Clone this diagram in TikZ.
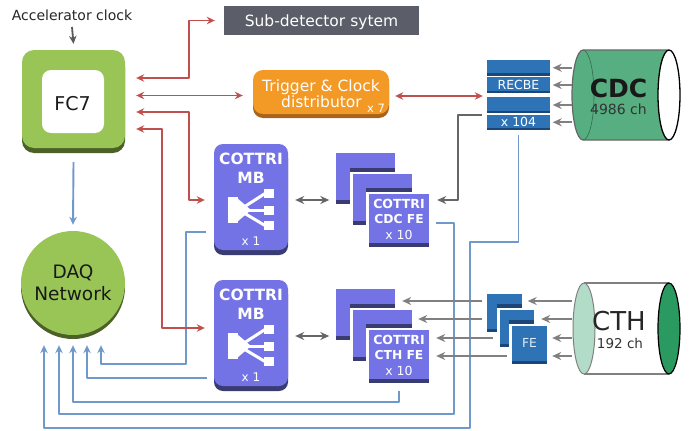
\documentclass[tikz,border=0pt]{standalone}
\usepackage{fontspec}
\setmainfont{DejaVu Sans}
\usetikzlibrary{arrows.meta,calc}
\definecolor{redc}{HTML}{C0504D}
\definecolor{bluel}{HTML}{7099CB}
\definecolor{grayl}{HTML}{808080}
\definecolor{grayd}{HTML}{666666}
\definecolor{fcgreen}{HTML}{98C556}
\definecolor{fcdark}{HTML}{4B6128}
\definecolor{orng}{HTML}{F39A26}
\definecolor{orngd}{HTML}{A8641C}
\definecolor{subgray}{HTML}{5B5E68}
\definecolor{purp}{HTML}{7373E6}
\definecolor{purpd}{HTML}{393B73}
\definecolor{recb}{HTML}{2E73B6}
\definecolor{recbd}{HTML}{1C4677}
\definecolor{cdcg}{HTML}{57AE80}
\definecolor{cthl}{HTML}{B3DCC8}
\definecolor{cthd}{HTML}{2B9A61}
\newcommand\fsz[1]{\fontsize{#1}{#1}\selectfont}
\begin{document}
\begin{tikzpicture}[x=1pt,y=-1pt,line join=round,
  lbl/.style={anchor=base, inner sep=0pt, outer sep=0pt},
  redarr/.style={draw=redc, line width=1.9pt, {Stealth[length=8pt,width=7.5pt]}-{Stealth[length=8pt,width=7.5pt]}},
  blarr/.style={draw=bluel, line width=1.9pt, -{Stealth[length=8pt,width=7.5pt]}},
  grarr/.style={draw=grayl, line width=2.3pt, -{Stealth[length=9pt,width=8pt]}},
  dgarr/.style={draw=grayd, line width=2.3pt, {Stealth[length=9pt,width=8pt]}-{Stealth[length=9pt,width=8pt]}},
  pcard/.style={fill=purp, inner sep=0pt, path picture={\fill[purpd] ([yshift=4pt]path picture bounding box.south west) rectangle (path picture bounding box.south east);}},
  bcard/.style={fill=recb, inner sep=0pt, path picture={\fill[recbd] ([yshift=3pt]path picture bounding box.south west) rectangle (path picture bounding box.south east);}},
  rbar/.style={fill=recb, inner sep=0pt, minimum width=63pt, path picture={\fill[recbd] ([yshift=2.5pt]path picture bounding box.south west) rectangle (path picture bounding box.south east);}},
  mbbox/.style={fill=purp, rounded corners=9pt, minimum width=74pt, minimum height=106pt, inner sep=0pt},
  wtxt/.style={lbl, text=white},
]
\useasboundingbox (0,0) rectangle (694,431);

% ---------- FC7 ----------
\fill[fcdark, rounded corners=12pt] (22,55) rectangle (125,153);
\node[fill=fcgreen, rounded corners=12pt, minimum width=103pt, minimum height=98pt, inner sep=0pt] (fc7) at (73.5,99) {};
\node[fill=white, rounded corners=9pt, minimum width=62pt, minimum height=63pt, inner sep=0pt] (fc7in) at (73,101.5) {};
\node[lbl, font=\fsz{19}, text=black!90] (fc7t) at (72.5,110) {FC7};

\node[lbl, font=\fsz{14}, text=black!85] (acc) at (72,20) {Accelerator clock};
\draw[draw=black!65, line width=1.8pt, -{Stealth[length=8pt,width=7.5pt]}] ($(acc.base)+(0,7)$) -- ($(fc7.north)+(0,-6)$);

% ---------- DAQ ----------
\fill[fcdark] (73,287) circle[radius=52pt];
\node[circle, fill=fcgreen, minimum size=104pt, inner sep=0pt] (daq) at (73,283) {};
\node[lbl, font=\fsz{18.5}, text=black!90] (daqt1) at (73,278) {DAQ};
\node[lbl, font=\fsz{18.5}, text=black!90] (daqt2) at (73,300) {Network};
\draw[blarr] ($(fc7.south)+(0,14)$) -- ($(daq.north)+(0,-6)$);

% ---------- Sub-detector ----------
\node[fill=subgray, minimum width=195pt, minimum height=29pt, inner sep=0pt] (sub) at (321.5,20.5) {};
\node[wtxt, font=\fsz{15.5}] (subt) at (321.5,26.5) {Sub-detector sytem};

% ---------- Trigger ----------
\fill[orngd, rounded corners=10pt] (253,74) rectangle (389,118);
\node[fill=orng, rounded corners=10pt, minimum width=136pt, minimum height=44pt, inner sep=0pt] (trig) at (321,92) {};
\node[wtxt, font=\fsz{15.5}] (trigt1) at (321,91) {Trigger \& Clock};
\node[wtxt, font=\fsz{15.5}] (trigt2) at (321.5,107.5) {distributor};
\node[wtxt, font=\fsz{11.5}] (trigt3) at (376,112.5) {x 7};

% ---------- MB boxes ----------
\fill[purpd, rounded corners=9pt] (214,149) rectangle (288,255);
\node[mbbox] (mb1) at (251,197) {};
\fill[purpd, rounded corners=9pt] (214,285) rectangle (288,391);
\node[mbbox] (mb2) at (251,333) {};
\foreach \dy/\nm in {0/a,136/b}{
  \node[wtxt, font=\bfseries\fsz{15.5}] (mbc\nm) at (251,{164+\dy}) {COTTRI};
  \node[wtxt, font=\bfseries\fsz{15.5}] (mbm\nm) at (251,{183+\dy}) {MB};
  \node[wtxt, font=\fsz{12}] (mbx\nm) at (251,{245+\dy}) {x 1};
  \fill[white] (228,{197+\dy}) rectangle (238,{223+\dy});
  \fill[white] (237,{198+\dy}) -- (251,{210+\dy}) -- (237,{222+\dy}) -- cycle;
  \fill[white] (264,{189+\dy}) rectangle (274,{198+\dy});
  \fill[white] (264,{205.5+\dy}) rectangle (274,{214.5+\dy});
  \fill[white] (264,{221+\dy}) rectangle (274,{230+\dy});
  \draw[white, line width=3pt] (244,{207+\dy}) -- (265,{193.5+\dy});
  \draw[white, line width=3pt] (244,{210+\dy}) -- (265,{210+\dy});
  \draw[white, line width=3pt] (244,{213+\dy}) -- (265,{225.5+\dy});
}

% ---------- CDC FE stack ----------
\node[pcard, minimum width=59pt, minimum height=51pt] (cdcA) at (365,178) {};
\fill[purpd] (350,168) rectangle (394.5,172);
\fill[white] (350,172) rectangle (412,225);
\node[pcard, minimum width=59pt, minimum height=51pt] (cdcB) at (382.5,199.5) {};
\fill[purpd] (366,188) rectangle (412,192);
\fill[white] (366,192) rectangle (429,247);
\node[pcard, minimum width=60pt, minimum height=53pt] (cdcC) at (399,220.5) {};
\node[wtxt, font=\bfseries\fsz{12.5}] (cdct1) at (399,208) {COTTRI};
\node[wtxt, font=\bfseries\fsz{12.3}] (cdct2) at (399,223) {CDC FE};
\node[wtxt, font=\fsz{12.5}] (cdct3) at (399,239) {x 10};

% ---------- CTH FE stack ----------
\node[pcard, minimum width=59pt, minimum height=51pt] (cthA) at (365,314) {};
\fill[purpd] (350,304) rectangle (394.5,308);
\fill[white] (350,308) rectangle (412,361);
\node[pcard, minimum width=59pt, minimum height=51pt] (cthB) at (382.5,335.5) {};
\fill[purpd] (366,324) rectangle (412,328);
\fill[white] (366,328) rectangle (429,383);
\node[pcard, minimum width=60pt, minimum height=53pt] (cthC) at (399,356.5) {};
\node[wtxt, font=\bfseries\fsz{12.5}] (ctht1) at (399,344) {COTTRI};
\node[wtxt, font=\bfseries\fsz{12.3}] (ctht2) at (399,359) {CTH FE};
\node[wtxt, font=\fsz{12.5}] (ctht3) at (399,375) {x 10};

% ---------- RECBE ----------
\node[rbar, minimum height=15.5pt] (r1) at (518.5,67.75) {};
\node[rbar, minimum height=16pt] (r2) at (518.5,85) {};
\node[rbar, minimum height=16pt] (r3) at (518.5,105) {};
\node[rbar, minimum height=15.5pt] (r4) at (518.5,122.25) {};
\node[wtxt, font=\fsz{12.5}] (rt1) at (518.5,89.5) {RECBE};
\node[wtxt, font=\fsz{12.5}] (rt2) at (518.5,126.5) {x 104};

% ---------- small FE (CTH) ----------
\node[bcard, minimum width=35pt, minimum height=38pt] (fe1) at (504.5,313) {};
\fill[recbd] (497,304) rectangle (522,308);
\fill[white] (497,308) rectangle (534,347);
\node[bcard, minimum width=34pt, minimum height=37pt] (fe2) at (517,328.5) {};
\fill[recbd] (509,320) rectangle (534,323.5);
\fill[white] (509,323.5) rectangle (547,364);
\node[bcard, minimum width=35pt, minimum height=38pt] (fe3) at (529.5,345) {};
\node[lbl, font=\fsz{12.4}, text=white!85!recb] (fet) at (529.5,347) {FE};

% ---------- CDC cylinder ----------
\fill[cdcg] (669,50) -- (583,50) arc[start angle=90,end angle=270,x radius=11pt,y radius=45pt] -- (669,140) -- cycle;
\draw[cdcg!60!black, line width=0.6pt] (583,50) arc[start angle=90,end angle=-90,x radius=11pt,y radius=45pt];
\draw[black!60, line width=1.2pt] (669,50) -- (583,50) arc[start angle=90,end angle=270,x radius=11pt,y radius=45pt] -- (669,140);
\draw[black, line width=1.3pt, fill=white] (669,95) ellipse[x radius=11pt,y radius=45pt];
\coordinate (cdcL) at (571.5,95);
\node[lbl, font=\bfseries\fsz{25}, text=black!90] (cdct) at (618.5,97) {CDC};
\node[lbl, font=\fsz{14}, text=black!80] (cdcn) at (618.5,114) {4986 ch};

% ---------- CTH cylinder ----------
\fill[white] (584,283) rectangle (669,374);
\draw[grayl, line width=1.5pt] (584,283) -- (669,283) (584,374) -- (669,374);
\draw[grayl, line width=1pt, fill=cthl] (584,328.5) ellipse[x radius=11pt,y radius=45.5pt];
\draw[black, line width=1.2pt, fill=cthd] (669,328.5) ellipse[x radius=11pt,y radius=45.5pt];
\coordinate (cthL) at (572,328.5);
\node[lbl, font=\fsz{26}, text=black!85] (ctht) at (619,330) {CTH};
\node[lbl, font=\fsz{13.5}, text=black!80] (cthn) at (620,348) {192 ch};

% ---------- blue lines to DAQ ----------
\draw[blarr] ($(mb1.west)+(-8,35)$) -- ++(-20,0) |- ($(daq.south)+(28,29)$) -- ($(daq.south)+(28,10)$);
\draw[blarr] ($(mb2.west)+(-7,45)$) -| ($(daq.south)+(14,10)$);
\draw[blarr] ($(cthC.south)+(0,7.5)$) -- ++(0,11) -| ($(daq.south)+(0,10)$);
\draw[blarr] ($(cdcC.east)+(7,2.5)$) -- ++(18,0) |- ($(daq.south)+(-14,79)$) -- ($(daq.south)+(-14,10)$);
\draw[blarr] ($(r4.south)+(0,5)$) -- ++(0,107) -- ++(-48.5,0) |- ($(daq.south)+(-29,93)$) -- ($(daq.south)+(-29,10)$);

% ---------- red lines ----------
\draw[redarr] ($(fc7.east)+(11,-21)$) -- ++(53,0) |- ($(sub.west)+(-9,0)$);
\draw[redarr] ($(fc7.east)+(11,-3.5)$) -- ($(trig.west)+(-10,3.5)$);
\draw[redarr] ($(fc7.east)+(11,13)$) -- ++(53,0) |- ($(mb1.west)+(-9,3)$);
\draw[redarr] ($(fc7.east)+(11,30)$) -- ++(26,0) |- ($(mb2.west)+(-9,-5)$);
\draw[redarr] ($(trig.east)+(6,4)$) -- ($(r3.west)+(-4,-9)$);

% ---------- gray arrows ----------
\foreach \r in {r1,r2,r3,r4}{
  \draw[grarr] (cdcL |- \r.east) -- ($(\r.east)+(2.5,0)$);
}
\draw[dgarr] ($(mb1.east)+(7,3)$) -- ($(cdcA.west |- mb1.east)+(-6,3)$);
\draw[dgarr] ($(mb2.east)+(7,3)$) -- ($(cthA.west |- mb2.east)+(-6,3)$);
\draw[draw=grayd, line width=2.3pt, -{Stealth[length=9pt,width=8pt]}] ($(r4.west)+(-5,-7)$) -- ++(-24,0) |- ($(cdcC.east)+(8,-20.5)$);

\draw[grarr] ($(fe1.west)+(-5,-12)$) -- ($(cthA.east)+(7.5,-13)$);
\draw[grarr] ($(fe1.west)+(-5,6)$) -- ($(cthB.east)+(6,-16.5)$);
\draw[grarr] ($(fe2.west)+(-7,9.5)$) -- ($(cthC.east)+(7,-18.5)$);
\draw[grarr] ($(fe3.west)+(-5,11)$) -- ($(cthC.east)+(7,-0.5)$);
\draw[grarr] ($(cthL)+(0,-27.5)$) -- ($(fe1.east)+(5.5,-12)$);
\draw[grarr] ($(cthL)+(0,-9.5)$) -- ($(fe2.east)+(7,-9.5)$);
\draw[grarr] ($(cthL)+(0,9.5)$) -- ($(fe3.east)+(5,-7)$);
\draw[grarr] ($(cthL)+(0,27.5)$) -- ($(fe3.east)+(5,11)$);
\end{tikzpicture}
\end{document}
